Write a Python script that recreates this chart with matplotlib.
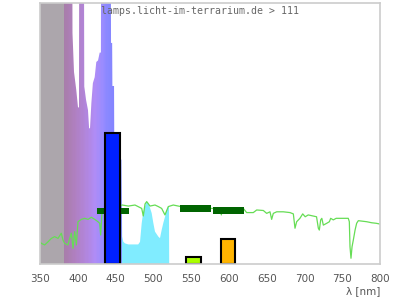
import numpy as np
import matplotlib
matplotlib.use("Agg")
import matplotlib.pyplot as plt
from matplotlib.colors import LinearSegmentedColormap

# Lamp spectrum (relative, values > 100 run off the top)
lamp_nm = [350, 392.6, 393.0, 395.0, 398.0, 400.3, 401.6, 402.0, 408.0, 408.6,
           411.0, 413.5, 415.0, 416.2, 418.0, 420.0, 422.4, 424.5, 426.8, 429.0,
           430.6, 431.0, 443.6, 444.0, 445.5, 445.8, 448.0, 448.4, 457.8, 458.8,
           460.3, 462.5, 466.9, 473.5, 480.0, 482.4, 484.6, 486.7, 489.0, 491.2,
           493.4, 495.6, 497.8, 500.0, 502.2, 506.6, 508.8, 511.0, 513.2, 515.4,
           517.6, 519.8, 520.7, 521.0, 800]
lamp_val = [140, 140, 88.5, 73.6, 66.7, 60.0, 60.0, 140, 140, 68.0,
            62.8, 59.0, 52.0, 52.0, 61.7, 69.3, 71.6, 77.4, 78.0, 81.0,
            81.0, 140, 140, 84.7, 84.7, 68.2, 68.2, 40.0, 40.0, 10.5,
            8.5, 7.9, 7.5, 7.5, 7.5, 8.5, 15.6, 20.0, 22.0, 24.0,
            23.4, 21.5, 19.5, 15.7, 12.4, 10.5, 9.9, 13.0, 15.7, 18.0,
            20.7, 22.0, 22.0, 0, 0]

# Reference (daylight) spectrum
ref_nm = [350, 351.8, 356.2, 360.6, 365.0, 369.4, 373.8, 378.2, 380.4, 382.6,
          387.0, 389.3, 391.5, 393.7, 395.9, 398.1, 400.3, 404.7, 409.2, 413.5,
          418.0, 422.4, 426.8, 429.0, 430.3, 432.0, 440.0, 450.0, 458.8, 467.0,
          475.7, 484.6, 486.7, 489.0, 491.2, 495.6, 502.2, 506.6, 511.0, 515.4,
          519.8, 526.4, 533.0, 540.0, 560.0, 575.0, 589.0, 590.0, 591.0, 600.0,
          619.0, 621.3, 623.5, 632.3, 636.8, 645.6, 650.0, 654.4, 656.6, 658.8,
          663.3, 672.0, 680.9, 685.3, 687.5, 689.7, 694.0, 697.7, 701.0, 705.0,
          716.0, 718.4, 719.7, 721.5, 723.0, 725.0, 729.5, 733.0, 734.7, 738.2,
          742.0, 758.0, 759.4, 760.3, 761.6, 763.0, 764.7, 767.0, 769.1, 771.3,
          782.4, 789.0, 795.0, 800]
ref_val = [8.5, 7.9, 7.3, 8.5, 9.8, 10.5, 9.8, 11.8, 9.2, 7.9,
           7.3, 9.8, 11.8, 6.0, 12.4, 7.3, 16.2, 17.1, 17.5, 17.1,
           17.9, 17.1, 16.2, 15.6, 11.1, 19.5, 21.0, 21.8, 22.6, 22.2,
           22.6, 21.3, 18.4, 23.0, 23.9, 22.2, 22.6, 22.0, 21.3, 18.8,
           22.0, 22.6, 22.2, 21.8, 21.6, 21.3, 21.2, 18.8, 21.2, 21.3,
           21.3, 20.5, 19.7, 19.7, 20.7, 20.5, 19.4, 20.0, 17.1, 19.4,
           20.0, 20.0, 19.7, 19.2, 13.7, 16.2, 17.5, 19.2, 18.1, 18.8,
           18.1, 13.7, 13.0, 16.9, 17.5, 14.9, 15.6, 16.2, 17.5, 16.9,
           17.5, 17.5, 16.2, 6.6, 2.2, 6.6, 9.2, 13.0, 15.6, 16.6,
           16.2, 15.8, 15.6, 15.3]

# Dark green bands (from, to, level)
band_lo = [425.4, 535.3, 578.6]
band_hi = [467.8, 576.3, 620.0]
band_val = [20.3, 21.3, 20.4]

# Colour bars
bar_center = [446, 553, 599]
bar_val = [50.2, 2.7, 9.5]
bar_colors = ["#0020ff", "#aaff00", "#ffb400"]

ticks = [350, 400, 450, 500, 550, 600, 650, 700, 750, 800]

fig = plt.figure(figsize=(4, 3), dpi=100)
ax = fig.add_axes([0.1, 0.12, 0.85, 0.87])
ax.set_xlim(350, 800)
ax.set_ylim(0, 100)

# lamp fill with wavelength gradient
stops = [(350, "#aca6ac"), (380, "#aca6ac"), (380.5, "#a87ea8"), (395, "#b080c0"),
         (410, "#b286dc"), (422, "#b08cf6"), (432, "#9a8cff"), (440, "#8888ff"),
         (457.5, "#8080ff"), (458.5, "#80ecff"), (522, "#80ecff"), (800, "#ffffff")]
cmap = LinearSegmentedColormap.from_list(
    "lamp", [((w - 350) / 450, c) for w, c in stops])
poly = ax.fill_between(lamp_nm, lamp_val, 0, color="none", lw=0)
grad = np.linspace(0, 1, 900).reshape(1, -1)
im = ax.imshow(grad, cmap=cmap, aspect="auto", extent=[350, 800, 0, 100],
               origin="lower", interpolation="nearest", zorder=1)
im.set_clip_path(poly.get_paths()[0], transform=ax.transData)

ax.plot(ref_nm, ref_val, color="#66dd55", lw=0.9, zorder=2)

for lo, hi, v in zip(band_lo, band_hi, band_val):
    ax.bar(lo, 2.5, width=hi - lo, bottom=v - 1.25, align="edge",
           color="#006400", lw=0, zorder=3)

ax.bar(bar_center, bar_val, width=19.5, color=bar_colors,
       edgecolor="black", linewidth=1.5, zorder=4)

ax.text(0.472, 0.969, "lamps.licht-im-terrarium.de > 111", transform=ax.transAxes,
        ha="center", va="center", family="DejaVu Sans Mono", fontsize=7.1,
        color="#666666", zorder=5)

for s in ax.spines.values():
    s.set_color("#cccccc")
    s.set_linewidth(1.2)
    s.set_zorder(6)

ax.set_xticks(ticks)
ax.set_yticks([])
ax.tick_params(axis="x", length=0, pad=7.5, labelsize=7.5, labelcolor="#555555")
ax.set_xlabel("λ [nm]", loc="right", fontsize=7.5, color="#555555", labelpad=1.5)

fig.savefig("out.png", dpi=100)
